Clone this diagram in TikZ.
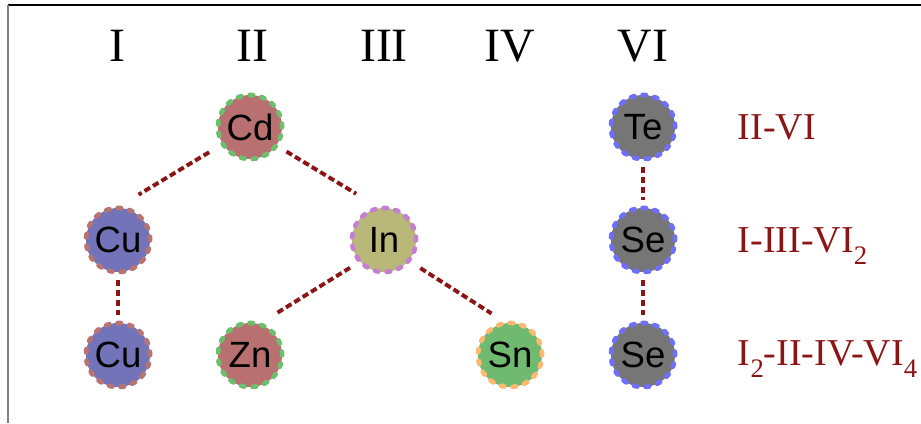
\documentclass[tikz,border=0pt]{standalone}
\usepackage{fontspec}
\setmainfont{Liberation Serif}
\setsansfont{Liberation Sans}
\usetikzlibrary{positioning}
\definecolor{redfill}{HTML}{B87070}
\definecolor{greenedge}{HTML}{6DBF6D}
\definecolor{bluefill}{HTML}{7373B9}
\definecolor{rededge}{HTML}{B87373}
\definecolor{olivefill}{HTML}{B9B878}
\definecolor{purpleedge}{HTML}{C47FD0}
\definecolor{greenfill}{HTML}{6FBA70}
\definecolor{orangeedge}{HTML}{FFB86F}
\definecolor{greyfill}{HTML}{767676}
\definecolor{blueedge}{HTML}{6F6FFF}
\definecolor{bondred}{HTML}{8B1414}
\newcommand{\sub}[1]{\raisebox{-0.32em}{\fontsize{19}{19}\selectfont #1}}

\begin{document}
\begin{tikzpicture}[x=0.025cm,y=-0.025cm,
  atom/.style={circle,minimum size=1.6cm,inner sep=0pt,outer sep=0pt,line width=3.4pt,
    line cap=round,dash pattern=on 2.4pt off 6pt,font=\sffamily\fontsize{26}{26}\selectfont},
  bond/.style={draw=bondred,line width=2.8pt,dash pattern=on 4.6pt off 2.4pt},
  group/.style={font=\fontsize{34}{34}\selectfont,anchor=base},
  formula/.style={text=bondred,font=\fontsize{27}{27}\selectfont,anchor=base west}]
\useasboundingbox (0,0) rectangle (921,423);
\draw[black,line width=1.1pt] (8,5) -- (921,5);
\draw[gray,line width=1.4pt] (8,5) -- (8,423);
% group numbers
\node[group] (gI) at (117,61) {I};
\node[group] (gII) at (252,61) {II};
\node[group] (gIII) at (384,61) {III};
\node[group] (gIV) at (510,61) {IV};
\node[group] (gVI) at (643,61) {VI};
% atoms
\node[atom,fill=redfill,draw=greenedge] (Cd) at (250,127) {Cd};
\node[atom,fill=greyfill,draw=blueedge] (Te) at (643,127) {Te};
\node[atom,fill=bluefill,draw=rededge] (Cu1) at (118,240) {Cu};
\node[atom,fill=olivefill,draw=purpleedge] (In) at (384,240) {In};
\node[atom,fill=greyfill,draw=blueedge] (Se1) at (643,240) {Se};
\node[atom,fill=bluefill,draw=rededge] (Cu2) at (118,355) {Cu};
\node[atom,fill=redfill,draw=greenedge] (Zn) at (250,355) {Zn};
\node[atom,fill=greenfill,draw=orangeedge] (Sn) at (510,355) {Sn};
\node[atom,fill=greyfill,draw=blueedge] (Se2) at (643,355) {Se};
% bonds
\draw[bond,shorten <=0.4cm,shorten >=0.65cm] (Cd.212) -- (Cu1.93);
\draw[bond,shorten <=0.3cm,shorten >=0.7cm] (Cd.325) -- (In.97);
\draw[bond,shorten <=0.3cm,shorten >=0.5cm] (In.222) -- (Zn.74);
\draw[bond,shorten <=0.35cm,shorten >=0.45cm] (In.320) -- (Sn.96);
\draw[bond,shorten <=0.2cm,shorten >=0.2cm] (Cu1.south) -- (Cu2.north);
\draw[bond,shorten <=0.2cm,shorten >=0.2cm] (Te.south) -- (Se1.north);
\draw[bond,shorten <=0.2cm,shorten >=0.2cm] (Se1.south) -- (Se2.north);
% compound families
\node[formula] (f1) at (733,139) {II-VI};
\node[formula] (f2) at (733,252) {I-III-VI\sub{2}};
\node[formula] (f3) at (733,365) {I\sub{2}-II-IV-VI\sub{4}};
\end{tikzpicture}
\end{document}
